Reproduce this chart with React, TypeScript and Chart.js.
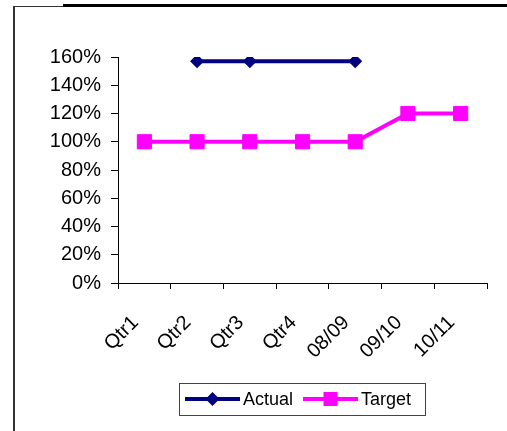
import React, { useEffect, useRef } from "react";
import { Chart, registerables } from "chart.js";

Chart.register(...registerables);

const categories = ["Qtr1", "Qtr2", "Qtr3", "Qtr4", "08/09", "09/10", "10/11"];
const actualValues = [null, 157, 157, null, 157, null, null];
const targetValues = [100, 100, 100, 100, 100, 120, 120];
const yMax = 160;
const yStep = 20;

const FONT = "'Liberation Sans', Arial, sans-serif";

const framePlugin = {
  id: "frame",
  beforeDraw(chart: any) {
    const ctx = chart.ctx;
    ctx.save();
    ctx.fillStyle = "#ffffff";
    ctx.fillRect(0, 0, chart.width, chart.height);
    ctx.strokeStyle = "#333333";
    ctx.lineWidth = 2;
    ctx.beginPath();
    ctx.moveTo(14, 6);
    ctx.lineTo(14, 431);
    ctx.stroke();
    ctx.lineWidth = 1;
    ctx.beginPath();
    ctx.moveTo(13, 6.5);
    ctx.lineTo(64, 6.5);
    ctx.stroke();
    ctx.fillStyle = "#000000";
    ctx.fillRect(63, 4, chart.width - 63, 3);
    ctx.restore();
  },
};

const legendPlugin = {
  id: "customLegend",
  afterDraw(chart: any) {
    const ctx = chart.ctx;
    ctx.save();
    ctx.strokeStyle = "#444444";
    ctx.lineWidth = 1;
    ctx.strokeRect(179.5, 383.5, 246, 32);
    const y = 399;
    let x = 185;
    ctx.font = `18px ${FONT}`;
    ctx.textBaseline = "middle";
    ctx.textAlign = "left";
    chart.data.datasets.forEach((ds: any) => {
      ctx.strokeStyle = ds.borderColor;
      ctx.fillStyle = ds.borderColor;
      ctx.lineWidth = 4;
      ctx.beginPath();
      ctx.moveTo(x, y);
      ctx.lineTo(x + 55, y);
      ctx.stroke();
      const cx = x + 27.5;
      if (ds.pointStyle === "rectRot") {
        const r = 7;
        ctx.beginPath();
        ctx.moveTo(cx - r, y);
        ctx.lineTo(cx, y - r);
        ctx.lineTo(cx + r, y);
        ctx.lineTo(cx, y + r);
        ctx.closePath();
        ctx.fill();
      } else {
        ctx.fillRect(cx - 7, y - 7, 14, 14);
      }
      ctx.fillStyle = "#000000";
      ctx.fillText(ds.label, x + 58, y + 1);
      x += 118;
    });
    ctx.restore();
  },
};

export default function App() {
  const ref = useRef<HTMLCanvasElement | null>(null);
  useEffect(() => {
    if (!ref.current) return;
    const chart = new Chart(ref.current, {
      type: "line",
      data: {
        labels: categories,
        datasets: [
          {
            label: "Actual",
            data: actualValues,
            borderColor: "#000080",
            backgroundColor: "#000080",
            borderWidth: 4,
            pointStyle: "rectRot",
            pointRadius: 7,
            pointBorderWidth: 0,
            spanGaps: true,
            tension: 0,
          },
          {
            label: "Target",
            data: targetValues,
            borderColor: "#FF00FF",
            backgroundColor: "#FF00FF",
            borderWidth: 4,
            pointStyle: "rect",
            pointRadius: 10,
            pointBorderWidth: 1,
            tension: 0,
          },
        ],
      },
      options: {
        responsive: false,
        animation: false,
        devicePixelRatio: 1,
        layout: { padding: { left: 0, top: 57, right: 20, bottom: 0 } },
        plugins: {
          legend: { display: false },
          tooltip: { enabled: false },
        },
        scales: {
          x: {
            type: "category",
            offset: true,
            grid: {
              display: true,
              drawOnChartArea: false,
              drawTicks: true,
              tickLength: 6,
              color: "#000000",
              offset: true,
            },
            border: { display: true, color: "#000000", width: 1 },
            ticks: {
              color: "#000000",
              font: { family: FONT, size: 20 },
              maxRotation: 45,
              minRotation: 45,
              padding: 22,
              labelOffset: -9,
            },
            afterFit: (s: any) => {
              s.height = 148;
            },
          },
          y: {
            min: 0,
            max: yMax,
            ticks: {
              stepSize: yStep,
              color: "#000000",
              font: { family: FONT, size: 20 },
              padding: 10,
              callback: (v: any) => `${v}%`,
            },
            grid: {
              display: true,
              drawOnChartArea: false,
              drawTicks: true,
              tickLength: 7,
              color: "#000000",
            },
            border: { display: true, color: "#000000", width: 1 },
            afterFit: (s: any) => {
              s.width = 118;
            },
          },
        },
      },
      plugins: [framePlugin, legendPlugin],
    } as any);
    return () => chart.destroy();
  }, []);
  return (
    <div style={{ position: "absolute", left: 0, top: 0, width: 507, height: 431 }}>
      <canvas ref={ref} width={507} height={431} style={{ display: "block" }} />
    </div>
  );
}
